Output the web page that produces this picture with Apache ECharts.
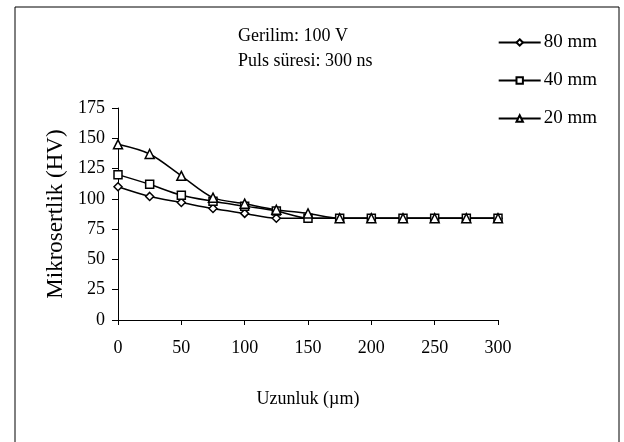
<!DOCTYPE html>
<html><head><meta charset="utf-8">
<script src="https://cdn.jsdelivr.net/npm/echarts@6/dist/echarts.min.js"></script>
<style>html,body{margin:0;padding:0;background:#fff}#c{width:624px;height:442px}</style>
</head><body><div id="c"></div>
<script>
const xValues = [0,25,50,75,100,125,150,175,200,225,250,275,300];
const s80 = [110,102,97,92,88,84,84,84,84,84,84,84,84];
const s40 = [120,112,103,98,94,90,84,84,84,84,84,84,84];
const s20 = [145,137,119,101,96,91,88,84,84,84,84,84,84];
const seriesNames = ['80 mm','40 mm','20 mm'];
const yTicks = [0,25,50,75,100,125,150,175];
const xTicks = [0,50,100,150,200,250,300];

const font = 'Liberation Serif';
const chart = echarts.init(document.getElementById('c'));
function mk(name, vals, sym){
  return {name, type:'line', smooth:0.3, data: xValues.map((x,i)=>[x,vals[i]]),
    symbol: sym, symbolSize: sym==='triangle'?9:8, showSymbol:true,
    lineStyle:{color:'#000',width:1.5}, itemStyle:{color:'#fff',borderColor:'#000',borderWidth:1.5},
    emphasis:{disabled:true}};
}
chart.setOption({
  animation:false,
  backgroundColor:'#fff',
  graphic:[
    {type:'rect',shape:{x:15,y:7,width:604,height:440},style:{fill:'none',stroke:'#000',lineWidth:1}},
    {type:'text',left:238,top:27,style:{text:'Gerilim: 100 V',font:'18px "Liberation Serif"',fill:'#000'}},
    {type:'text',left:238,top:52,style:{text:'Puls süresi: 300 ns',font:'18px "Liberation Serif"',fill:'#000'}}
  ],
  legend:{
    orient:'vertical', right:22, top:28, itemGap:19, itemWidth:42, itemHeight:8,
    data:seriesNames,
    textStyle:{fontFamily:font,fontSize:19,color:'#000',padding:[0,0,0,-2]}
  },
  grid:{left:118,right:126,top:108,bottom:122},
  xAxis:{type:'value',min:0,max:300,interval:50,
    name:'Uzunluk (µm)',nameLocation:'middle',nameGap:70,
    nameTextStyle:{fontFamily:font,fontSize:18,color:'#000'},
    axisLine:{lineStyle:{color:'#000',width:1}},
    axisTick:{show:true,length:5,lineStyle:{color:'#000'}},
    axisLabel:{fontFamily:font,fontSize:18,color:'#000',margin:19,
      formatter:v=>xTicks.includes(v)?String(v):''},
    splitLine:{show:false}},
  yAxis:{type:'value',min:0,max:175,interval:25,
    name:'Mikrosertlik (HV)',nameLocation:'middle',nameGap:49,
    nameTextStyle:{fontFamily:font,fontSize:23,color:'#000'},
    axisLine:{show:true,lineStyle:{color:'#000',width:1}},
    axisTick:{show:true,length:6,lineStyle:{color:'#000'}},
    axisLabel:{fontFamily:font,fontSize:18,color:'#000',margin:13,
      formatter:v=>yTicks.includes(v)?String(v):''},
    splitLine:{show:false}},
  series:[mk(seriesNames[0],s80,'diamond'),mk(seriesNames[1],s40,'rect'),mk(seriesNames[2],s20,'triangle')]
});
</script></body></html>
